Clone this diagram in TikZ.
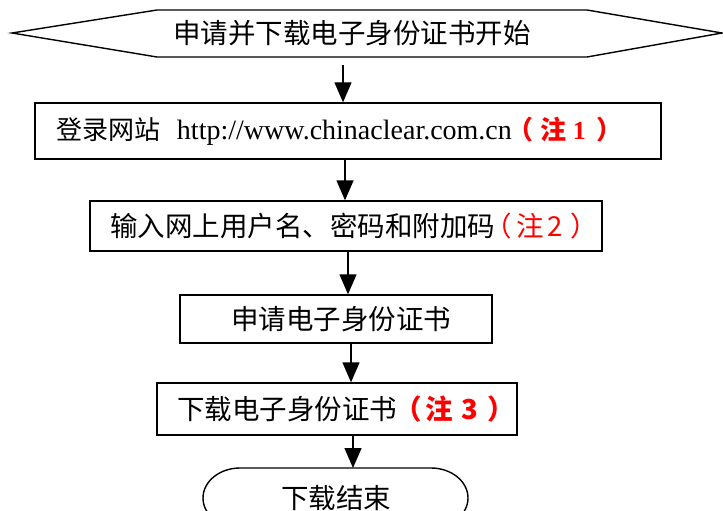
\documentclass[tikz,border=0pt]{standalone}
\usepackage{fontspec}
\setmainfont{Noto Sans CJK SC}
\newfontfamily\tms{Liberation Serif}
\usetikzlibrary{arrows.meta}
\begin{document}
\begin{tikzpicture}[x=1pt,y=-1pt,
  every node/.style={inner sep=0pt},
  lw/.style={line width=1.4pt},
  stepbox/.style={draw, lw, align=left, font=\fontsize{27.5}{30}\selectfont},
  arr/.style={lw, -{Triangle[length=20pt,width=17pt]}}]
\useasboundingbox (0,0) rectangle (723,511);
% start hexagon
\draw[lw] (12,33) -- (157,10) -- (587,10) -- (722,33) -- (587,57) -- (157,57) -- cycle;
\node[font=\fontsize{27.5}{30}\selectfont] (start) at (352,33) {申请并下载电子身份证书开始};
\coordinate (starthex) at (343,65);
% boxes
\node[stepbox, text width=626pt, minimum height=56pt, font=\fontsize{26}{30}\selectfont] (b1) at (348,131)
  {\hspace*{21pt}\mbox{登录网站\hspace{17pt}{\tms\fontsize{28}{30}\selectfont http://www.chinaclear.com.cn}%
   {\color{red}\bfseries\hspace{-4pt}（\hspace{7pt}注\hspace{6pt}{\tms\bfseries 1}\hspace{11pt}）}}};
\node[stepbox, text width=512pt, minimum height=50pt] (b2) at (346,226)
  {\hspace*{20pt}\mbox{输入网上用户名、密码和附加码%
   {\color{red}\hspace{-11pt}（\hspace{5pt}注\hspace{4pt}2\hspace{7pt}\rlap{）}}}};
\node[stepbox, text width=312pt, minimum height=48pt] (b3) at (336,319)
  {\hspace*{51pt}申请电子身份证书};
\node[stepbox, text width=360pt, minimum height=52pt] (b4) at (337,409)
  {\hspace*{20pt}\mbox{下载电子身份证书%
   {\color{red}\bfseries\hspace{-3pt}（\hspace{4.5pt}注\hspace{8pt}3\hspace{9pt}）}}};
% terminal
\draw[lw] (240,468) -- (431,468) arc[start angle=90, end angle=-90, x radius=37pt, y radius=30pt]
  -- (240,528) arc[start angle=270, end angle=90, x radius=37pt, y radius=30pt] -- cycle;
\node[font=\fontsize{27.5}{30}\selectfont] (finish) at (336,498) {下载结束};
\coordinate (fintop) at (336,468);
% arrow x positions
\coordinate (x2) at (345,0);
\coordinate (x3) at (348,0);
\coordinate (x4) at (351,0);
\coordinate (x5) at (353,0);
\draw[arr] (starthex) -- (b1.north -| starthex);
\draw[arr] (b1.south -| x2) -- (b2.north -| x2);
\draw[arr] (b2.south -| x3) -- (b3.north -| x3);
\draw[arr] (b3.south -| x4) -- (b4.north -| x4);
\draw[arr] (b4.south -| x5) -- (fintop -| x5);
\end{tikzpicture}
\end{document}
